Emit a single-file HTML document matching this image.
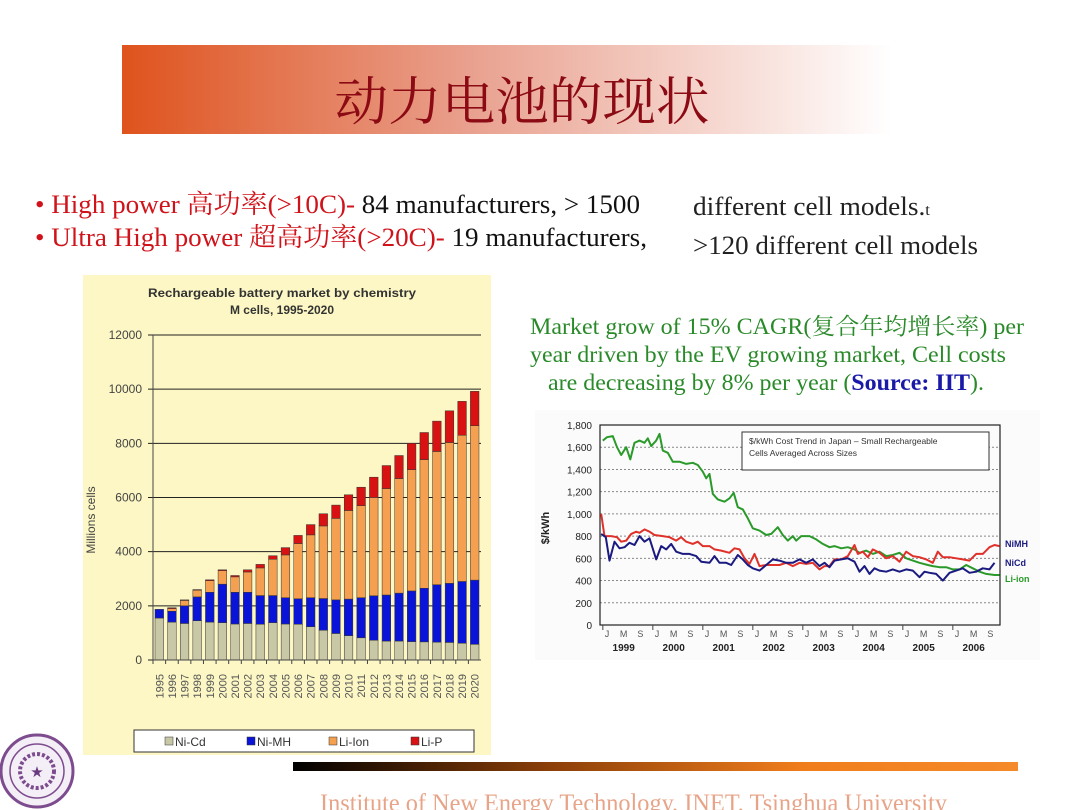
<!DOCTYPE html>
<html><head><meta charset="utf-8"><style>
html,body{margin:0;padding:0;background:#fff;width:1080px;height:810px;overflow:hidden}
svg{display:block}
.serif{font-family:"Liberation Serif","Noto Serif CJK SC",serif}
.sans{font-family:"Liberation Sans","Noto Sans CJK SC",sans-serif}
</style></head><body>
<svg id="page" width="1080" height="810" viewBox="0 0 1080 810">
<defs>
<linearGradient id="tg" x1="0" x2="1"><stop offset="0" stop-color="#df531d"/><stop offset="0.45" stop-color="#e9a08e"/><stop offset="1" stop-color="#ffffff"/></linearGradient>
<linearGradient id="fg" x1="0" x2="1"><stop offset="0" stop-color="#000"/><stop offset="0.35" stop-color="#8a3e08"/><stop offset="0.7" stop-color="#f07d1c"/><stop offset="1" stop-color="#f58a2a"/></linearGradient>
</defs>
<rect x="122" y="45" width="770" height="89" fill="url(#tg)"/>
<text x="522" y="120" text-anchor="middle" class="serif" font-size="52" fill="#8b0a14" textLength="375" lengthAdjust="spacingAndGlyphs">动力电池的现状</text>

<g class="serif" font-size="26">
<text x="35" y="213" textLength="605" lengthAdjust="spacingAndGlyphs"><tspan fill="#d0131a">• High power 高功率(&gt;10C)-</tspan><tspan fill="#111"> 84 manufacturers, &gt; 1500</tspan></text>
<text x="693" y="215" fill="#222" textLength="237" lengthAdjust="spacingAndGlyphs">different cell models.<tspan font-size="16">t</tspan></text>
<text x="35" y="246" textLength="612" lengthAdjust="spacingAndGlyphs"><tspan fill="#d0131a">• Ultra High power 超高功率(&gt;20C)-</tspan><tspan fill="#111"> 19 manufacturers,</tspan></text>
<text x="693" y="254" fill="#222" textLength="285" lengthAdjust="spacingAndGlyphs">&gt;120 different cell models</text>
</g>
<g class="serif" font-size="23" fill="#2a8a2a">
<text x="530" y="334" textLength="494" lengthAdjust="spacingAndGlyphs">Market grow of 15% CAGR(复合年均增长率) per</text>
<text x="530" y="362" textLength="476" lengthAdjust="spacingAndGlyphs">year driven by the EV growing market, Cell costs</text>
<text x="548" y="390" textLength="436" lengthAdjust="spacingAndGlyphs">are decreasing by 8% per year (<tspan fill="#1a1aa8" font-weight="bold">Source: IIT</tspan>).</text>
</g>

<rect x="83" y="275" width="408" height="480" fill="#fcf7c4"/>
<g id="barchart"></g>

<rect x="535" y="410" width="505" height="250" fill="#fbfbfb"/>
<g id="linechart"></g>

<rect x="293" y="762" width="725" height="9" fill="url(#fg)"/>
<text x="320" y="811" class="serif" font-size="25" fill="#e8a488" textLength="627" lengthAdjust="spacingAndGlyphs">Institute of New Energy Technology, INET,  Tsinghua University</text>
<g>
<circle cx="37" cy="771" r="36" fill="#f4eef6" stroke="#7d4c8f" stroke-width="3"/>
<circle cx="37" cy="771" r="27" fill="none" stroke="#7d4c8f" stroke-width="1.5"/>
<circle cx="37" cy="771" r="17" fill="none" stroke="#7d4c8f" stroke-width="4" stroke-dasharray="3 2"/>
<text x="37" y="777" text-anchor="middle" font-size="15" fill="#6a3a80">★</text>
</g>
</svg>
<script>
var NS='http://www.w3.org/2000/svg';
function mk(tag,attrs,parent,txt){var e=document.createElementNS(NS,tag);for(var k in attrs)e.setAttribute(k,attrs[k]);if(txt!=null)e.textContent=txt;parent.appendChild(e);return e;}

// ---- bar chart data ----
var years=['1995','1996','1997','1998','1999','2000','2001','2002','2003','2004','2005','2006','2007','2008','2009','2010','2011','2012','2013','2014','2015','2016','2017','2018','2019','2020'];
var niCd=[1550,1400,1350,1450,1400,1380,1330,1350,1320,1380,1330,1320,1230,1100,980,900,820,730,700,700,680,670,660,650,620,580];
var niMH=[320,400,650,880,1100,1420,1170,1150,1060,1000,970,940,1070,1170,1240,1350,1480,1640,1700,1770,1870,1980,2120,2180,2280,2370];
var liIon=[0,100,200,250,430,500,570,750,1020,1340,1580,2040,2320,2680,3010,3270,3400,3630,3930,4230,4480,4750,4920,5200,5400,5700];
var liP=[0,30,20,20,30,30,50,80,130,130,270,300,380,450,490,580,680,750,850,850,970,1000,1120,1170,1250,1270];
var barTicks=[0,2000,4000,6000,8000,10000,12000];

var bc=document.getElementById('barchart');
var bx0=153,bx1=481,by0=660,by1=335,bmax=12000;
function byS(v){return by0-(v/bmax)*(by0-by1);}
var bstep=(bx1-bx0)/years.length;
var t1=mk('text',{x:282,y:297,'text-anchor':'middle','font-size':12,'font-weight':'bold',fill:'#333','class':'sans',textLength:268,lengthAdjust:'spacingAndGlyphs'},bc,'Rechargeable battery market by chemistry');


var t2=mk('text',{x:282,y:314,'text-anchor':'middle','font-size':12,'font-weight':'bold',fill:'#333','class':'sans'},bc,'M cells, 1995-2020');


barTicks.forEach(function(t){
  var y=byS(t);
  var gl=mk('line',{x1:bx0-5,x2:bx1,y1:y,y2:y,stroke:'#222','stroke-width':1},bc);
  
  
  var tl=mk('text',{x:142,y:y+4,'text-anchor':'end','font-size':12,fill:'#444','class':'sans'},bc,String(t));
  
  
});
mk('line',{x1:bx0,x2:bx0,y1:by1,y2:by0,stroke:'#444'},bc);
var yt=mk('text',{x:0,y:0,transform:'translate(95,520) rotate(-90)','text-anchor':'middle','font-size':12,fill:'#444','class':'sans'},bc,'Millions cells');


var series=[{d:niCd,c:'#c9c8a6',n:'ni-cd'},{d:niMH,c:'#0a14d8',n:'ni-mh'},{d:liIon,c:'#f4a050',n:'li-ion'},{d:liP,c:'#d81212',n:'li-p'}];
years.forEach(function(yr,i){
  var x=bx0+i*bstep+2, w=bstep-4, acc=0;
  series.forEach(function(s){
    var v=s.d[i]; if(v<=0)return;
    var r=mk('rect',{x:x,y:byS(acc+v),width:w,height:byS(acc)-byS(acc+v),fill:s.c,stroke:'#333','stroke-width':0.5},bc);
    
    
    acc+=v;
  });
  var lb=mk('text',{x:0,y:0,transform:'translate('+(x+w/2+4)+',674) rotate(-90)','text-anchor':'end','font-size':11,fill:'#555','class':'sans'},bc,yr);
  
  
  mk('line',{x1:bx0+i*bstep,x2:bx0+i*bstep,y1:by0,y2:by0+4,stroke:'#444'},bc);
});
mk('line',{x1:bx0,x2:bx1,y1:by0,y2:by0,stroke:'#444'},bc);
var lg=mk('g',{},bc);


mk('rect',{x:134,y:730,width:340,height:22,fill:'#fff',stroke:'#333'},lg);
var legNames=['Ni-Cd','Ni-MH','Li-Ion','Li-P'];
series.forEach(function(s,i){
  var lx=165+i*82;
  var e=mk('g',{},lg);
  
  
  mk('rect',{x:lx,y:737,width:8,height:8,fill:s.c,stroke:'#333','stroke-width':0.5},e);
  mk('text',{x:lx+10,y:746,'font-size':12,fill:'#333','class':'sans'},e,legNames[i]);
});

// ---- line chart data (month index from Jan 1999, $/kWh) ----
var liIonMonths=[-1,0,1.4,2.4,3.4,4.6,5.6,6.6,7.8,9,9.8,10.6,11.8,12.6,13.4,14.6,15.8,17.4,19,20.6,21.8,23,23.8,24.6,25.4,26.6,28.2,29.4,30.4,31.4,32.6,33.8,35,36.6,38.2,39.4,41,42.2,43.4,44.6,45.4,46.6,48.6,50.2,51.8,53.4,54.6,56.2,57.8,59.4,60.6,62.2,63.8,65.4,67,68.6,70.2,71.8,73.4,75,77,78.2,79.8,81.4,83,84.6,86.2,87.8,89.4,91,93,94.2];
var liIonCost=[1660,1690,1700,1600,1530,1600,1490,1640,1660,1640,1680,1610,1660,1720,1570,1550,1470,1470,1450,1460,1440,1380,1320,1360,1180,1130,1110,1140,1190,1060,1040,960,870,850,810,820,880,810,760,800,760,800,800,770,730,700,710,690,700,680,650,670,640,660,620,630,650,600,580,560,540,530,520,520,500,500,540,510,480,460,450,450];
var nimhMonths=[-1.4,-0.6,1,2.4,3.4,4.6,5.8,7,7.8,9,10.2,11.4,13.4,15,16.6,17.8,19,20.6,21.8,23,24.6,25.8,27.4,29.4,30.6,31.8,33,34.2,35.4,36.6,38.2,39.8,41.4,43,44.6,46.2,47.8,49.4,51,52.2,53.4,54.6,56.2,57.8,59.4,60.2,61.4,62.6,63.8,65.4,67,68.6,70.2,71.8,73.4,75,76.6,78.2,79.4,80.6,82.2,83.8,85.4,87,88.6,90.2,91.8,93,94.2];
var nimhCost=[1000,800,800,790,750,760,820,840,830,860,840,810,800,790,760,790,750,730,750,710,710,680,670,650,690,680,600,550,640,530,540,540,540,560,530,560,550,560,500,530,530,590,590,620,720,640,660,610,680,650,600,620,570,660,620,610,590,560,660,610,610,600,590,580,640,640,700,720,710];
var nicdMonths=[-1.4,-0.3,0.6,1.8,3,4.2,5.4,6.6,7.8,9,10.2,11.8,13,14.2,15.4,16.6,18.2,19.8,21.4,22.6,24.6,25.8,27,28.6,29.8,31.4,32.6,33.8,35,36.6,38.2,39.8,41.4,43,44.6,46.2,47.8,49.4,51,52.2,53.4,54.6,56.2,57.8,59.4,60.6,61.8,63,64.2,65.4,67,68.6,70.2,71.8,73.4,75,76.2,77.4,79,80.6,82.2,83.8,85.4,87,88.6,90.2,91.8,93];
var nicdCost=[820,790,580,750,690,700,740,720,800,750,780,590,710,680,730,660,640,640,620,570,560,620,560,560,540,630,590,540,510,490,540,590,580,560,560,590,560,590,530,560,520,580,590,600,570,480,530,460,510,490,480,500,480,500,490,430,480,470,460,400,470,490,510,470,480,510,500,560];
var costTicks=[0,200,400,600,800,1000,1200,1400,1600,1800];
var yearLabels=['1999','2000','2001','2002','2003','2004','2005','2006'];
var monthLabels=['J','M','S'];

var lc=document.getElementById('linechart');
var lx0=600,lx1=1000,ly0=625,ly1=425,lmax=1800;
function lxS(t){return 607+t*50/12;}
function lyS(v){return ly0-(v/lmax)*(ly0-ly1);}
costTicks.forEach(function(t){
  var y=lyS(t);
  if(t>0){var g=mk('line',{x1:lx0,x2:lx1,y1:y,y2:y,stroke:'#888','stroke-dasharray':'2 2'},lc);
  
  }
  var tl=mk('text',{x:592,y:y+4,'text-anchor':'end','font-size':10,fill:'#222','class':'sans'},lc,t.toLocaleString('en-US'));
  
  
});
mk('rect',{x:lx0,y:ly1,width:lx1-lx0,height:ly0-ly1,fill:'none',stroke:'#222','stroke-width':1.2},lc);
var ytl=mk('text',{x:0,y:0,transform:'translate(549,528) rotate(-90)','text-anchor':'middle','font-size':11,'font-weight':'bold',fill:'#222','class':'sans'},lc,'$/kWh');


yearLabels.forEach(function(yr,i){
  var base=i*12;
  [0,4,8].forEach(function(m,j){
    var ml=mk('text',{x:lxS(base+m),y:637,'text-anchor':'middle','font-size':9,fill:'#555','class':'sans'},lc,monthLabels[j]);
    
    
  });
  var yl=mk('text',{x:lxS(base+4),y:651,'text-anchor':'middle','font-size':10,'font-weight':'bold',fill:'#222','class':'sans'},lc,yr);
  
  
  mk('line',{x1:lxS(base-1),x2:lxS(base-1),y1:ly0,y2:ly0+5,stroke:'#444'},lc);
});
function drawLine(ms,vs,color,name){
  var d=ms.map(function(m,i){return (i?'L':'M')+lxS(m).toFixed(1)+','+lyS(vs[i]).toFixed(1);}).join('');
  var p=mk('path',{d:d,fill:'none',stroke:color,'stroke-width':2,'stroke-linejoin':'round'},lc);
  
  
}
drawLine(liIonMonths,liIonCost,'#2a9a2a','line-li-ion');
drawLine(nimhMonths,nimhCost,'#e0302a','line-nimh');
drawLine(nicdMonths,nicdCost,'#1a1a80','line-nicd');
var lb=mk('g',{},lc);


mk('rect',{x:742,y:432,width:247,height:38,fill:'#fff',stroke:'#333'},lb);
mk('text',{x:749,y:444,'font-size':8.5,fill:'#333','class':'sans'},lb,'$/kWh Cost Trend in Japan \u2013 Small Rechargeable');
mk('text',{x:749,y:456,'font-size':8.5,fill:'#333','class':'sans'},lb,'Cells Averaged Across Sizes');
var labs=[['NiMH',547,'#1a1a80','label-nimh'],['NiCd',566,'#1a1a80','label-nicd'],['Li-ion',582,'#2a9a2a','label-li-ion']];
labs.forEach(function(l){
  var t=mk('text',{x:1005,y:l[1],'font-size':9,'font-weight':'bold',fill:l[2],'class':'sans'},lc,l[0]);
  
  
});
</script>
</body></html>
